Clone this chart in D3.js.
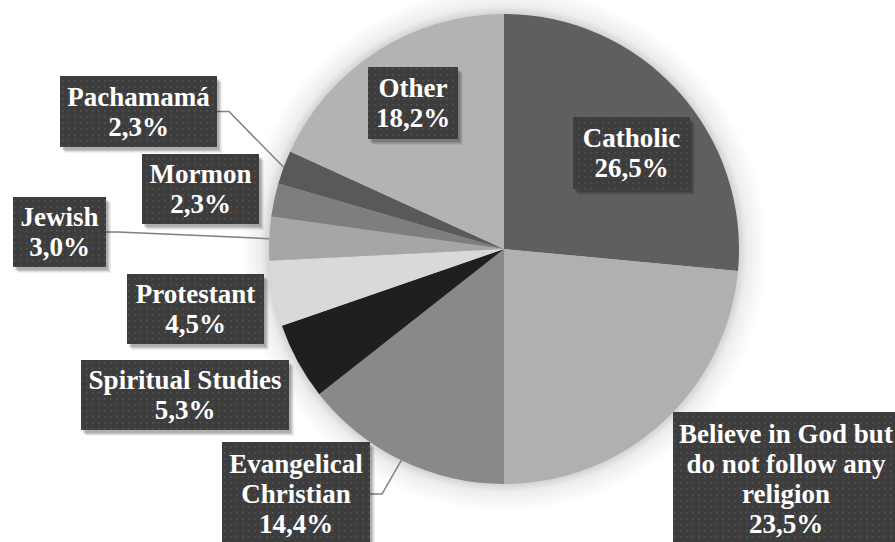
<!DOCTYPE html>
<html>
<head>
<meta charset="utf-8">
<script src="https://cdn.jsdelivr.net/npm/d3@7"></script>
</head>
<body style="margin:0">
<svg id="chart" width="895" height="542" style="display:block;background:#ffffff"></svg>
<script>
// Religious affiliation shares (percent), clockwise from 12 o'clock
const categories = ["Catholic", "Believe in God but do not follow any religion", "Evangelical Christian",
  "Spiritual Studies", "Protestant", "Jewish", "Mormon", "Pachamamá", "Other"];
const values = [26.5, 23.5, 14.4, 5.3, 4.5, 3.0, 2.3, 2.3, 18.2];
const valueLabels = ["26,5%", "23,5%", "14,4%", "5,3%", "4,5%", "3,0%", "2,3%", "2,3%", "18,2%"];
// Label text split into lines
const labelLines = [
  ["Catholic"],
  ["Believe in God but", "do not follow any", "religion"],
  ["Evangelical", "Christian"],
  ["Spiritual Studies"],
  ["Protestant"],
  ["Jewish"],
  ["Mormon"],
  ["Pachamamá"],
  ["Other"]
];
const sliceColors = ["#5f5f5f", "#b0b0b0", "#898989", "#1f1f1f", "#d9d9d9", "#a6a6a6", "#7e7e7e", "#595959", "#b3b3b3"];

// Label box placement: [left, top, width, height], plus whether a leader line is drawn
const boxLayout = [
  { box: [573, 117, 117, 72], leader: false },
  { box: [673, 412, 226, 134], leader: false },
  { box: [222, 442, 148, 104], leader: true },
  { box: [81, 360, 208, 70], leader: false },
  { box: [127, 274, 137, 70], leader: false },
  { box: [13, 197, 93, 70], leader: true },
  { box: [142, 154, 117, 70], leader: false },
  { box: [60, 76, 157, 71], leader: true },
  { box: [368, 67, 90, 72], leader: false }
];

const svg = d3.select("#chart");
const cx = 504, cy = 249, radius = 235;
const lineH = 30;

const defs = svg.append("defs");

// soft halo around the pie, as a radial fade just outside the rim
const haloR = radius + 28;
const haloGrad = defs.append("radialGradient").attr("id", "haloGrad")
  .attr("gradientUnits", "userSpaceOnUse")
  .attr("cx", 0).attr("cy", 0).attr("r", haloR);
haloGrad.append("stop").attr("offset", (radius - 4) / haloR).attr("stop-color", "#000").attr("stop-opacity", 0.22);
haloGrad.append("stop").attr("offset", (radius + 8) / haloR).attr("stop-color", "#000").attr("stop-opacity", 0.07);
haloGrad.append("stop").attr("offset", 1).attr("stop-color", "#000").attr("stop-opacity", 0);

// dotted dark fill for label boxes
const pat = defs.append("pattern").attr("id", "dots")
  .attr("patternUnits", "userSpaceOnUse").attr("width", 6).attr("height", 6);
pat.append("rect").attr("width", 6).attr("height", 6).attr("fill", "#3d3d3d");
pat.append("rect").attr("x", 2).attr("y", 2).attr("width", 1.5).attr("height", 1.5).attr("fill", "#575757");

const data = categories.map((c, i) => ({
  name: c, value: values[i], label: valueLabels[i], lines: labelLines[i],
  color: sliceColors[i], layout: boxLayout[i]
}));

const pie = d3.pie().value(d => d.value).sort(null);
const arcs = pie(data);
const arc = d3.arc().innerRadius(0).outerRadius(radius);
const edgeArc = d3.arc().innerRadius(radius).outerRadius(radius);

const g = svg.append("g").attr("transform", `translate(${cx},${cy})`);
g.append("circle").attr("r", haloR).attr("fill", "url(#haloGrad)");
g.append("g")
  .selectAll("path").data(arcs).enter().append("path")
  .attr("d", arc)
  .attr("fill", d => d.data.color);

// leader lines from slice edge to label box
const leaders = svg.append("g");
arcs.filter(d => d.data.layout.leader).forEach(d => {
  const [ex, ey] = edgeArc.centroid(d);
  const px = cx + ex, py = cy + ey;
  const [bx, by, bw, bh] = d.data.layout.box;
  const midY = by + bh / 2;
  let sx, kx;
  if (px > bx + bw) { sx = bx + bw; kx = sx + 12; } else { sx = bx; kx = sx - 12; }
  const pts = [[sx, midY], [kx, midY], [px, py]];
  leaders.append("path")
    .attr("d", d3.line()(pts))
    .attr("fill", "none")
    .attr("stroke", "#7f7f7f")
    .attr("stroke-width", 1.5);
});

// label boxes with a layered soft shadow toward the lower right
const boxes = svg.append("g");
const shadowSteps = [[6, 0.06], [5, 0.08], [4, 0.1], [3, 0.12]];
data.forEach(d => {
  const [bx, by, bw, bh] = d.layout.box;
  shadowSteps.forEach(([o, a]) => {
    boxes.append("rect")
      .attr("x", bx + o - 1).attr("y", by + o)
      .attr("width", bw).attr("height", bh)
      .attr("fill", "#000").attr("fill-opacity", a);
  });
  boxes.append("rect")
    .attr("x", bx).attr("y", by).attr("width", bw).attr("height", bh)
    .attr("fill", "url(#dots)");
});

// label text, in its own layer above the boxes
const texts = svg.append("g");
data.forEach(d => {
  const [bx, by, bw, bh] = d.layout.box;
  const lines = d.lines.concat([d.label]);
  const centerX = bx + bw / 2;
  const firstY = by + bh / 2 - (lines.length - 1) * lineH / 2;
  const text = texts.append("text")
    .attr("text-anchor", "middle")
    .attr("fill", "#ffffff")
    .attr("font-family", "Liberation Serif")
    .attr("font-weight", "bold")
    .attr("font-size", 27);
  lines.forEach((t, i) => {
    text.append("tspan")
      .attr("x", centerX)
      .attr("y", firstY + i * lineH + 9)
      .text(t);
  });
});
</script>
</body>
</html>
